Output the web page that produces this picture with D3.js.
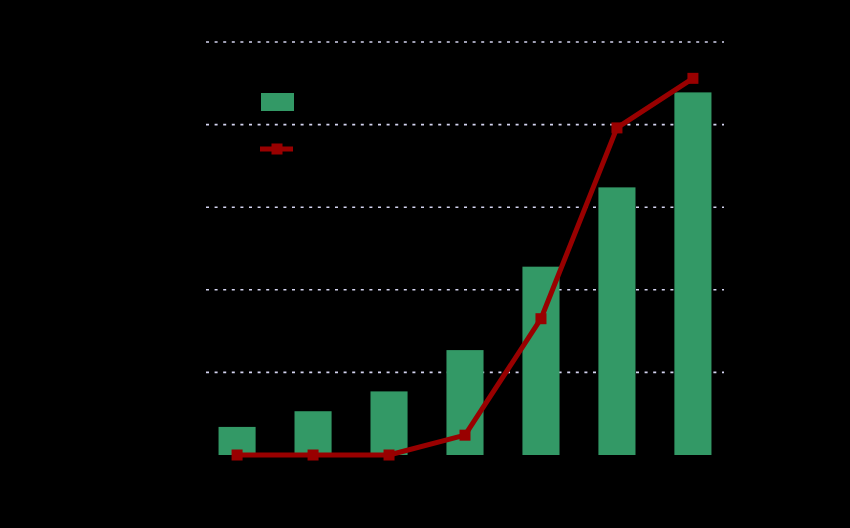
<!DOCTYPE html>
<html>
<head>
<meta charset="utf-8">
<script src="https://cdn.jsdelivr.net/npm/d3@7"></script>
<style>
  html, body { margin: 0; padding: 0; background: #000; }
  svg { display: block; }
</style>
</head>
<body>
<svg id="chart" width="850" height="528"></svg>
<script>
// Data (units relative to gridline spacing)
const categories = ["1", "2", "3", "4", "5", "6", "7"];
const barValues = [0.34, 0.53, 0.77, 1.27, 2.28, 3.24, 4.39];
const lineValues = [0.0, 0.0, 0.0, 0.24, 1.65, 3.96, 4.56];
const yTicks = [0, 1, 2, 3, 4, 5];

(function () {
const svg = d3.select("#chart");
svg.append("rect").attr("width", 850).attr("height", 528).attr("fill", "#000");

const plotLeft = 206, plotRight = 724, plotTop = 42, plotBottom = 455;

const x = d3.scaleBand()
  .domain(categories)
  .range([plotLeft, plotRight])
  .paddingInner(0.512)
  .paddingOuter(0.165);

const y = d3.scaleLinear().domain([0, 5]).range([plotBottom, plotTop]);

// Gridlines
svg.append("g")
  .selectAll("line")
  .data(yTicks.filter(d => d > 0))
  .join("line")
  .attr("x1", plotLeft).attr("x2", plotRight)
  .attr("y1", d => y(d)).attr("y2", d => y(d))
  .attr("stroke", "#d4d4f0")
  .attr("stroke-width", 1.6)
  .attr("stroke-dasharray", "3,5.6");

// Bars
svg.append("g")
  .selectAll("rect")
  .data(barValues)
  .join("rect")
  .attr("x", (d, i) => x(categories[i]))
  .attr("width", x.bandwidth())
  .attr("y", d => y(d))
  .attr("height", d => y(0) - y(d))
  .attr("fill", "#339966");

// Line
const lineColor = "#990000";
const cx = (i) => x(categories[i]) + x.bandwidth() / 2;
svg.append("path")
  .datum(lineValues)
  .attr("fill", "none")
  .attr("stroke", lineColor)
  .attr("stroke-width", 5)
  .attr("stroke-linejoin", "round")
  .attr("d", d3.line().x((d, i) => cx(i)).y(d => y(d)));

svg.append("g")
  .selectAll("rect")
  .data(lineValues)
  .join("rect")
  .attr("x", (d, i) => cx(i) - 5.5)
  .attr("y", d => y(d) - 5.5)
  .attr("width", 11).attr("height", 11)
  .attr("fill", lineColor);

// Legend
const lg = svg.append("g");
lg.append("rect").attr("x", 261).attr("y", 93).attr("width", 33).attr("height", 18).attr("fill", "#339966");
lg.append("line").attr("x1", 260).attr("x2", 293).attr("y1", 149).attr("y2", 149)
  .attr("stroke", lineColor).attr("stroke-width", 5);
lg.append("rect").attr("x", 271.5).attr("y", 143.5).attr("width", 11).attr("height", 11).attr("fill", lineColor);
})();
</script>
</body>
</html>
